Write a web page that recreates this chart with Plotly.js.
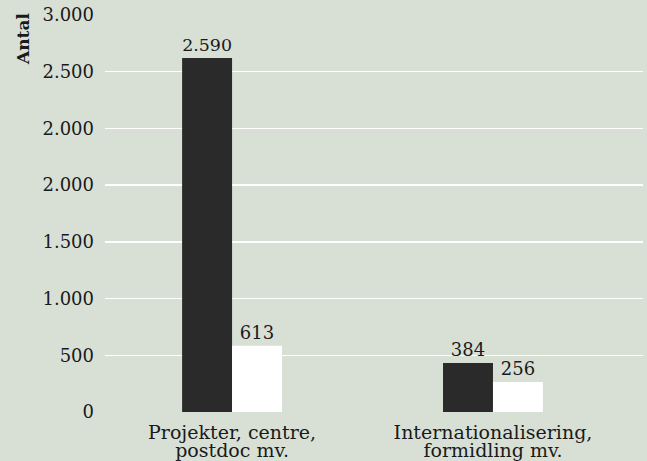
<!DOCTYPE html>
<html>
<head>
<meta charset="utf-8">
<script src="https://cdn.plot.ly/plotly-3.0.1.min.js"></script>
<style>html,body{margin:0;padding:0;background:#d8e0d6;}#chart{width:647px;height:461px;}</style>
</head>
<body>
<div id="chart"></div>
<script>
// Categories (x axis), first and second line of each label
const categories = ['Projekter, centre, postdoc mv.', 'Internationalisering, formidling mv.'];
const catLine1 = ['Projekter, centre,', 'Internationalisering,'];
const catLine2 = ['postdoc mv.', 'formidling mv.'];
// Printed values above the bars
const darkValues = [2590, 384];
const whiteValues = [613, 256];
// Bar lengths as read against the chart's gridlines (each gridline step = 500)
const darkHeights = [3120, 433];
const whiteHeights = [583, 265];
// Y tick values and the labels printed at them
const yTickVals = [0, 500, 1000, 1500, 2000, 2500, 3000, 3500];
const yTickText = ['0', '500', '1.000', '1.500', '2.000', '2.000', '2.500', '3.000'];

function fmt(v) { return String(v).replace(/\B(?=(\d{3})+(?!\d))/g, '.'); }

const fam = '"DejaVu Serif", "Liberation Serif", serif';
const font = {family: fam, size: 18, color: '#1a1a1a'};
const catFont = {family: fam, size: 19, color: '#1a1a1a'};
const catIdx = categories.map((c, i) => i);

const traces = [
  {
    type: 'bar', x: catIdx, y: darkHeights, name: 'A',
    text: darkValues.map(fmt), textposition: 'outside', cliponaxis: false,
    textfont: font, marker: {color: '#2a2a2a', line: {width: 0}}, hoverinfo: 'none'
  },
  {
    type: 'bar', x: catIdx, y: whiteHeights, name: 'B',
    text: whiteValues.map(fmt), textposition: 'outside', cliponaxis: false,
    textfont: font, marker: {color: '#ffffff', line: {width: 0}}, hoverinfo: 'none'
  },
  {
    type: 'scatter', x: catIdx, y: [null, null], xaxis: 'x2', yaxis: 'y',
    mode: 'markers', hoverinfo: 'none', showlegend: false
  }
];

const xRange = [-0.487, 1.575];
const layout = {
  width: 647, height: 461,
  margin: {l: 105, r: 4, t: 15, b: 49, pad: 0},
  paper_bgcolor: '#d8e0d6', plot_bgcolor: '#d8e0d6',
  font: font,
  showlegend: false,
  barmode: 'group', bargap: 0.617, bargroupgap: 0,
  xaxis: {
    range: xRange, tickvals: catIdx, ticktext: catLine1,
    showgrid: false, zeroline: false, showline: false, ticks: '',
    tickfont: catFont, automargin: false, ticklabelstandoff: 7
  },
  xaxis2: {
    overlaying: 'x', side: 'bottom', anchor: 'y',
    range: xRange, tickvals: catIdx, ticktext: catLine2,
    showgrid: false, zeroline: false, showline: false, ticks: '',
    tickfont: catFont, automargin: false, ticklabelstandoff: 25
  },
  yaxis: {
    range: [0, 3500], tickvals: yTickVals, ticktext: yTickText,
    showgrid: true, gridcolor: '#ffffff', gridwidth: 1.5,
    zeroline: false, showline: false, ticks: '',
    tickfont: font, automargin: false, ticklabelstandoff: 10
  },
  annotations: [{
    text: '<b>Antal</b>', xref: 'paper', yref: 'paper',
    x: 0, y: 1, xshift: -82, yshift: 4, xanchor: 'center', yanchor: 'top',
    textangle: -90, showarrow: false,
    font: {family: fam, size: 17, color: '#1a1a1a'}
  }]
};

Plotly.newPlot('chart', traces, layout, {displayModeBar: false, staticPlot: true});
</script>
</body>
</html>
